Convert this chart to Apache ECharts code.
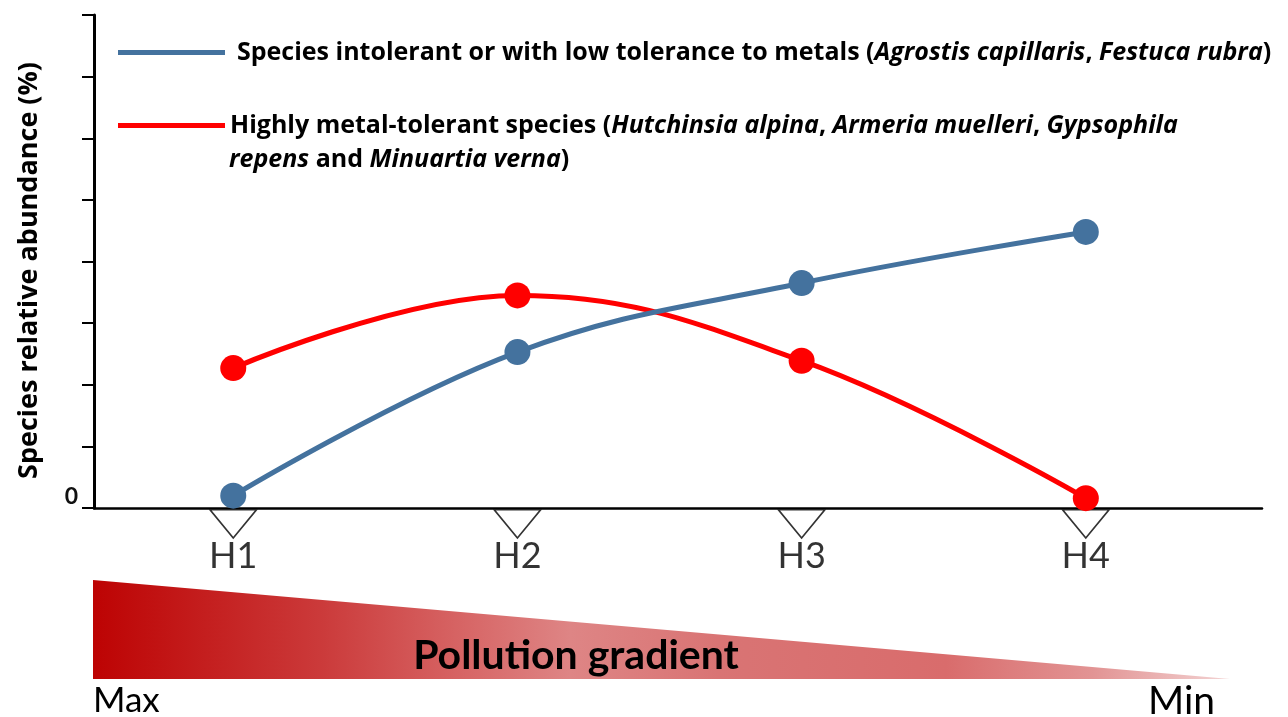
<!DOCTYPE html>
<html>
<head>
<meta charset="utf-8">
<script src="https://cdn.jsdelivr.net/npm/echarts@6/dist/echarts.min.js"></script>
<style>
html, body { margin: 0; padding: 0; background: #fff; }
#main { width: 1288px; height: 717px; }
</style>
</head>
<body>
<div id="main"></div>
<script>
// data (relative abundance, arbitrary %)
var categories = ['H1', 'H2', 'H3', 'H4'];
var intolerantValues = [2, 25.3, 36.5, 44.8];
var tolerantValues = [22.7, 34.5, 23.9, 1.6];
var yTickLabels = ['0'];
var intolerantName = 'Species intolerant or with low tolerance to metals';
var tolerantName = 'Highly metal-tolerant species';

var FONT = 'Lato';
var TFONT = 'Open Sans';
var blue = '#44729e';
var red = '#ff0000';

function toPoints(values) {
    return values.map(function (v, i) { return [i + 1, v]; });
}

var b = { fontFamily: TFONT, fontWeight: 'bold', fontSize: 25, color: '#000' };
var it = { fontFamily: TFONT, fontWeight: 'bold', fontStyle: 'italic', fontSize: 25, color: '#000' };

var myChart = echarts.init(document.getElementById('main'));
myChart.setOption({
    animation: false,
    grid: { left: 94, right: 26, top: 15, bottom: 209 },
    xAxis: {
        type: 'value',
        min: 0.51,
        max: 4.62,
        axisLine: { show: true, lineStyle: { color: '#000', width: 2.5 } },
        axisTick: { show: false },
        axisLabel: { show: false },
        splitLine: { show: false }
    },
    yAxis: {
        type: 'value',
        min: 0,
        max: 80,
        interval: 10,
        name: 'Species relative abundance (%)',
        nameLocation: 'middle',
        nameGap: 51,
        nameTextStyle: { fontFamily: TFONT, fontWeight: 'bold', fontSize: 27, color: '#000', padding: [0, 18, 0, 0] },
        axisLine: { show: true, lineStyle: { color: '#000', width: 3 } },
        axisTick: { show: true, inside: false, length: 12, lineStyle: { color: '#000', width: 2 } },
        axisLabel: {
            margin: 16,
            verticalAlign: 'bottom',
            fontFamily: FONT,
            fontWeight: 'bold',
            fontSize: 23,
            color: '#111',
            formatter: function (v) { return v === 0 ? yTickLabels[0] : ''; }
        },
        splitLine: { show: false }
    },
    legend: [{
        left: 113,
        top: 35,
        data: [intolerantName],
        icon: 'rect',
        itemWidth: 107,
        itemHeight: 5,
        textStyle: {
            padding: [0, 0, 0, 7],
            rich: { b: b, i: it }
        },
        formatter: function () {
            return '{b|Species intolerant or with low tolerance to metals (}{i|Agrostis capillaris}{b|, }{i|Festuca rubra}{b|)}';
        }
    }, {
        left: 113,
        top: 108,
        data: [tolerantName],
        icon: 'rect',
        itemWidth: 107,
        itemHeight: 5,
        textStyle: {
            padding: [0, 0, 0, 0],
            rich: { b: b, i: it }
        },
        formatter: function () {
            return '{b|Highly metal-tolerant species (}{i|Hutchinsia alpina}{b|, }{i|Armeria muelleri}{b|, }{i|Gypsophila}';
        }
    }],
    series: [{
        name: tolerantName,
        type: 'line',
        smooth: 0.4,
        data: toPoints(tolerantValues),
        symbol: 'circle',
        symbolSize: 26,
        lineStyle: { color: red, width: 5 },
        itemStyle: { color: red }
    }, {
        name: intolerantName,
        type: 'line',
        smooth: 0.4,
        data: toPoints(intolerantValues),
        symbol: 'circle',
        symbolSize: 26,
        lineStyle: { color: blue, width: 5 },
        itemStyle: { color: blue }
    }, {
        name: 'sites',
        type: 'scatter',
        data: categories.map(function (c, i) { return { name: c, value: [i + 1, 0] }; }),
        symbol: 'triangle',
        symbolRotate: 180,
        symbolSize: [46, 28],
        symbolOffset: [0, 16],
        itemStyle: { color: '#fff', borderColor: '#000', borderWidth: 1.5 },
        label: {
            show: true,
            position: 'bottom',
            distance: 0,
            formatter: '{b}',
            fontFamily: FONT,
            fontSize: 36,
            color: '#000'
        },
        silent: true,
        z: 1
    }],
    graphic: [{
        type: 'text',
        x: 229,
        y: 160,
        style: {
            text: '{i|repens}{b| and }{i|Minuartia verna}{b|)}',
            verticalAlign: 'middle',
            rich: {
                b: { fontFamily: TFONT, fontWeight: 'bold', fontSize: 25, fill: '#000' },
                i: { fontFamily: TFONT, fontWeight: 'bold', fontStyle: 'italic', fontSize: 25, fill: '#000' }
            }
        }
    }, {
        type: 'polygon',
        shape: { points: [[93, 580], [1230, 679], [93, 679]] },
        style: {
            fill: new echarts.graphic.LinearGradient(0, 0, 1, 0, [
                { offset: 0, color: '#bd0303' },
                { offset: 0.2, color: '#cb3a3a' },
                { offset: 0.34, color: '#d86a6a' },
                { offset: 0.42, color: '#de8585' },
                { offset: 0.55, color: '#d97474' },
                { offset: 0.75, color: '#d96c6c' },
                { offset: 0.88, color: '#e29494' },
                { offset: 1, color: '#f3d3d3' }
            ])
        },
        z: 0
    }, {
        type: 'text',
        x: 576,
        y: 656,
        style: {
            text: 'Pollution gradient',
            fontFamily: FONT, fontWeight: 'bold', fontSize: 41, fill: '#000',
            align: 'center', verticalAlign: 'middle'
        },
        z: 2
    }, {
        type: 'text',
        x: 93,
        y: 701,
        style: {
            text: 'Max', fontFamily: FONT, fontSize: 35, fill: '#000',
            align: 'left', verticalAlign: 'middle'
        }
    }, {
        type: 'text',
        x: 1215,
        y: 701,
        style: {
            text: 'Min', fontFamily: FONT, fontSize: 39, fill: '#000',
            align: 'right', verticalAlign: 'middle'
        }
    }]
});
</script>
</body>
</html>
